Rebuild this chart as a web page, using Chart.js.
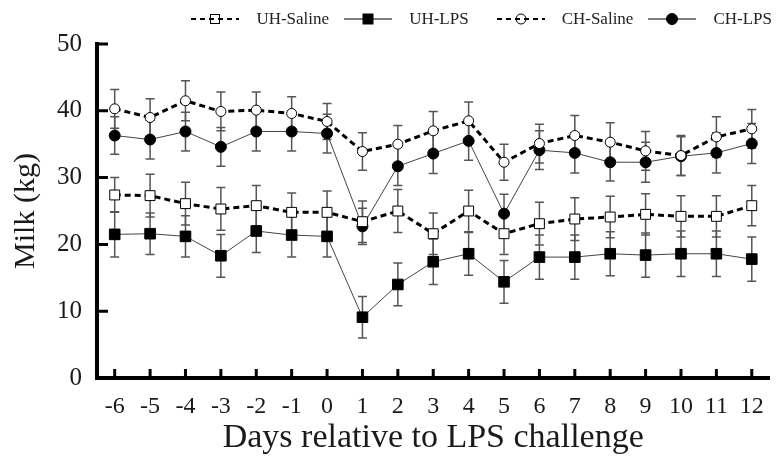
<!DOCTYPE html>
<html><head><meta charset="utf-8">
<script src="https://cdn.jsdelivr.net/npm/chart.js@4"></script>
<style>
html,body{margin:0;padding:0;background:#fff;}
#wrap{position:relative;width:778px;height:463px;}
#legend{position:absolute;top:9px;right:6px;display:flex;align-items:center;font-family:"Liberation Serif","Times New Roman",serif;font-size:17px;line-height:20px;color:#222;white-space:nowrap;}
.item{display:flex;align-items:center;margin-left:15px;}
.item.wide{margin-left:28px;}
.item svg{margin-right:17px;}
</style></head>
<body>
<div id="wrap">
<canvas id="c" width="778" height="463"></canvas>
<div id="legend"></div>
</div>
<script>
const days = ['-6','-5','-4','-3','-2','-1','0','1','2','3','4','5','6','7','8','9','10','11','12'];
const seriesNames = ['UH-Saline','UH-LPS','CH-Saline','CH-LPS'];
const uhSaline   = [27.4,27.3,26.1,25.3,25.8,24.8,24.8,23.4,25.0,21.6,25.0,21.6,23.1,23.8,24.1,24.5,24.2,24.2,25.8];
const uhSalineSE = [2.6,3.2,3.2,3.2,3.0,2.9,3.2,3.1,3.2,3.1,3.1,3.1,3.2,3.2,3.1,3.1,3.1,3.1,3.0];
const uhLPS      = [21.5,21.6,21.2,18.3,22.0,21.4,21.2,9.1,14.0,17.4,18.6,14.4,18.1,18.1,18.6,18.4,18.6,18.6,17.8];
const uhLPSSE    = [3.4,3.1,3.1,3.2,3.2,3.3,3.1,3.1,3.2,3.4,3.2,3.2,3.3,3.3,3.3,3.3,3.4,3.4,3.3];
const chSaline   = [40.3,39.0,41.5,39.9,40.1,39.6,38.4,33.9,35.0,37.0,38.5,32.3,35.1,36.3,35.3,34.0,33.3,36.1,37.3];
const chSalineSE = [2.9,2.8,3.0,2.9,2.7,2.5,2.7,2.8,2.8,2.9,2.8,2.7,2.9,3.0,2.9,2.9,3.0,3.0,2.9];
const chLPS      = [36.3,35.7,36.9,34.6,36.9,36.9,36.6,22.7,31.7,33.6,35.5,24.6,34.1,33.7,32.3,32.3,33.2,33.7,35.1];
const chLPSSE    = [2.8,2.9,2.9,2.9,2.9,2.9,2.9,2.7,2.9,3.0,2.9,2.9,2.9,3.0,2.8,3.0,2.9,3.0,3.0];
const yTicks = [0,10,20,30,40,50];

const SERIF = '"Liberation Serif","Times New Roman",serif';

const styles = [
  {dash:[6,4], lw:3, color:'#000', lineColor:'#000', pstyle:'rect', r:7, fill:'#fff'},
  {dash:[],    lw:1, color:'#000', lineColor:'#444', pstyle:'rect', r:7.5, fill:'#000'},
  {dash:[6,4], lw:3, color:'#000', lineColor:'#000', pstyle:'circle', r:5, fill:'#fff'},
  {dash:[],    lw:1, color:'#000', lineColor:'#444', pstyle:'circle', r:5.5, fill:'#000'}
];
const values = [uhSaline, uhLPS, chSaline, chLPS];
const errors = [uhSalineSE, uhLPSSE, chSalineSE, chLPSSE];

const datasets = seriesNames.map((n,i)=>({
  label:n, data:values[i], se:errors[i],
  borderColor:styles[i].lineColor, borderWidth:styles[i].lw, borderDash:styles[i].dash,
  pointStyle:styles[i].pstyle, pointRadius:styles[i].r,
  pointBackgroundColor:styles[i].fill, pointBorderColor:'#000', pointBorderWidth:1,
  tension:0, fill:false
}));

// HTML legend
const leg = document.getElementById('legend');
seriesNames.forEach((n,i)=>{
  const s = styles[i];
  const dash = s.dash.length ? 'stroke-dasharray="5,4"' : '';
  const lw = s.dash.length ? 2 : 1;
  let marker;
  if (s.pstyle==='rect') {
    const side = s.fill==='#000'?10:9;
    marker = `<rect x="${24-side/2}" y="${7-side/2}" width="${side}" height="${side}" fill="${s.fill==='#000'?'#000':'none'}" stroke="#000" stroke-width="1"/>`;
  } else {
    marker = `<circle cx="24" cy="7" r="${s.fill==='#000'?5.5:5}" fill="${s.fill==='#000'?'#000':'none'}" stroke="#000" stroke-width="1"/>`;
  }
  const d = document.createElement('div');
  d.className = 'item' + (i===2 ? ' wide' : '');
  d.innerHTML = `<svg width="48" height="14"><line x1="0" y1="7" x2="48" y2="7" stroke="#000" stroke-width="${lw}" ${dash}/>${marker}</svg><span>${n}</span>`;
  leg.appendChild(d);
});

const errorBars = {
  id:'errorBars',
  beforeDatasetsDraw(chart){
    const ctx = chart.ctx, ys = chart.scales.y;
    ctx.save();
    ctx.strokeStyle = '#555';
    ctx.lineWidth = 1.5;
    chart.data.datasets.forEach((ds,i)=>{
      const meta = chart.getDatasetMeta(i);
      meta.data.forEach((pt,j)=>{
        const v = ds.data[j], e = ds.se[j];
        const x = pt.x;
        const yt = ys.getPixelForValue(v+e), yb = ys.getPixelForValue(v-e);
        ctx.beginPath();
        ctx.moveTo(x,yt); ctx.lineTo(x,yb);
        ctx.moveTo(x-4.5,yt); ctx.lineTo(x+4.5,yt);
        ctx.moveTo(x-4.5,yb); ctx.lineTo(x+4.5,yb);
        ctx.stroke();
      });
    });
    ctx.restore();
  }
};

const inwardTicks = {
  id:'inwardTicks',
  afterDraw(chart){
    const ctx = chart.ctx, xs = chart.scales.x, ys = chart.scales.y, a = chart.chartArea;
    ctx.save();
    ctx.strokeStyle = '#000';
    ctx.lineWidth = 3;
    ctx.beginPath();
    xs.ticks.forEach((t,i)=>{
      const px = xs.getPixelForTick(i);
      ctx.moveTo(px, a.bottom); ctx.lineTo(px, a.bottom-9);
    });
    ys.ticks.forEach((t,i)=>{
      if (t.value===0) return;
      const py = ys.getPixelForValue(t.value);
      ctx.moveTo(a.left, py); ctx.lineTo(a.left+11, py);
    });
    ctx.stroke();
    ctx.restore();
  }
};

new Chart(document.getElementById('c'), {
  type:'line',
  data:{labels:days, datasets},
  options:{
    responsive:false, animation:false,
    layout:{padding:{top:44,right:1,left:0,bottom:0}},
    plugins:{legend:{display:false}, tooltip:{enabled:false}},
    scales:{
      x:{
        offset:true,
        grid:{display:true, drawOnChartArea:false, drawTicks:false},
        border:{display:true, color:'#000', width:4},
        ticks:{font:{family:SERIF,size:24}, color:'#1a1a1a', padding:14, maxRotation:0, autoSkip:false},
        title:{display:true, text:'Days relative to LPS challenge', font:{family:SERIF,size:34}, color:'#1a1a1a', padding:{top:0,bottom:5}},
        afterFit(s){ s.height = 85; }
      },
      y:{
        min:0, max:50,
        afterBuildTicks(s){ s.ticks = yTicks.map(v=>({value:v})); },
        grid:{display:true, drawOnChartArea:false, drawTicks:false},
        border:{display:true, color:'#000', width:4},
        ticks:{font:{family:SERIF,size:25}, color:'#1a1a1a', padding:15},
        title:{display:true, text:'Milk (kg)', font:{family:SERIF,size:30}, color:'#1a1a1a', padding:{top:8,bottom:0}},
        afterFit(s){ s.width = 97; }
      }
    }
  },
  plugins:[errorBars, inwardTicks]
});
</script>
</body></html>
